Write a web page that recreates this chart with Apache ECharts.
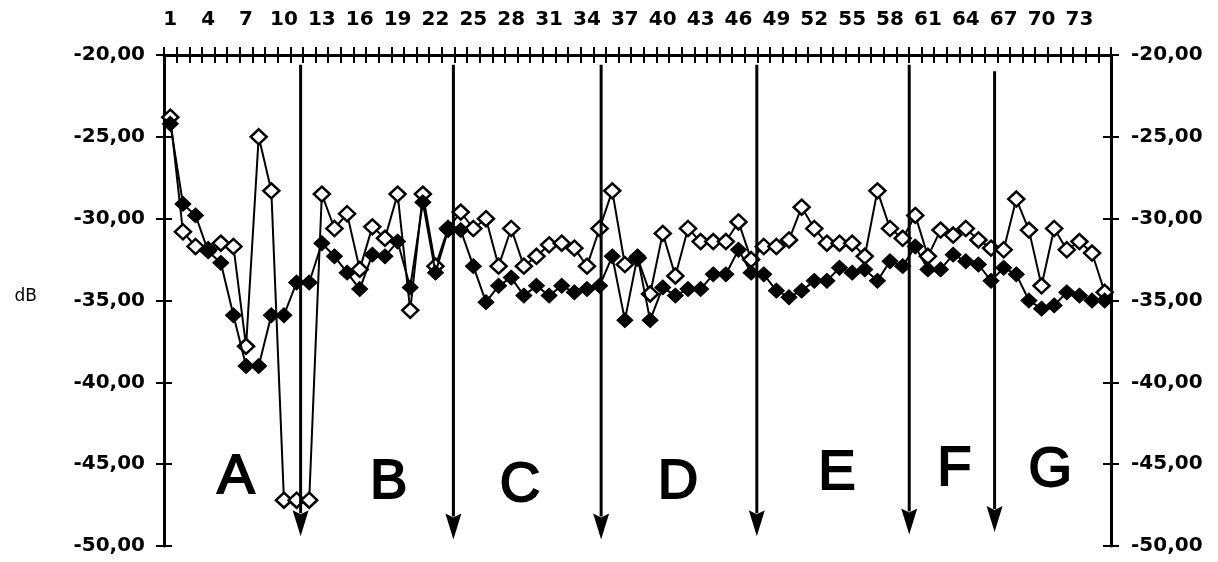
<!DOCTYPE html>
<html>
<head>
<meta charset="utf-8">
<script src="https://cdn.jsdelivr.net/npm/echarts@6/dist/echarts.min.js"></script>
<style>
  html, body { margin: 0; padding: 0; background: #fff; }
  #chart { width: 1218px; height: 562px; }
</style>
</head>
<body>
<div id="chart"></div>
<script>
// Measurement index 1..75 (top axis)
const categories = [
  '1','2','3','4','5','6','7','8','9','10','11','12','13','14','15','16','17','18','19','20',
  '21','22','23','24','25','26','27','28','29','30','31','32','33','34','35','36','37','38','39','40',
  '41','42','43','44','45','46','47','48','49','50','51','52','53','54','55','56','57','58','59','60',
  '61','62','63','64','65','66','67','68','69','70','71','72','73','74','75'
];

// Open-diamond series (dB)
const openSeries = [
  -23.8, -30.8, -31.7, -31.9, -31.5, -31.7, -37.8, -25.0, -28.3, -47.2,
  -47.2, -47.2, -28.5, -30.6, -29.7, -33.1, -30.5, -31.2, -28.5, -35.6,
  -28.5, -32.9, -30.6, -29.6, -30.6, -30.0, -32.9, -30.6, -32.9, -32.3,
  -31.6, -31.5, -31.8, -32.9, -30.6, -28.3, -32.8, -32.4, -34.6, -30.9,
  -33.5, -30.6, -31.4, -31.4, -31.4, -30.2, -32.5, -31.7, -31.7, -31.3,
  -29.3, -30.6, -31.5, -31.5, -31.5, -32.3, -28.3, -30.6, -31.2, -29.8,
  -32.3, -30.7, -31.0, -30.6, -31.3, -31.8, -31.9, -28.8, -30.7, -34.1,
  -30.6, -31.9, -31.4, -32.1, -34.5
];

// Filled-diamond series (dB)
const filledSeries = [
  -24.2, -29.1, -29.8, -32.0, -32.7, -35.9, -39.0, -39.0, -35.9, -35.9,
  -33.9, -33.9, -31.5, -32.3, -33.3, -34.3, -32.2, -32.3, -31.4, -34.2,
  -29.0, -33.3, -30.7, -30.7, -32.9, -35.1, -34.1, -33.6, -34.7, -34.1,
  -34.7, -34.1, -34.5, -34.3, -34.1, -32.3, -36.2, -32.3, -36.2, -34.2,
  -34.7, -34.3, -34.3, -33.4, -33.4, -31.9, -33.3, -33.4, -34.4, -34.8,
  -34.4, -33.8, -33.8, -33.0, -33.3, -33.1, -33.8, -32.6, -32.9, -31.7,
  -33.1, -33.1, -32.2, -32.6, -32.8, -33.8, -33.0, -33.4, -35.0, -35.5,
  -35.3, -34.5, -34.7, -35.0, -35.0
];

// Section dividers: position on the index scale, start level and tip level (dB)
const dividerPos = [11.32, 23.42, 35.12, 47.45, 59.52, 66.28];
const dividerTop = [-20.6, -20.6, -20.6, -20.6, -20.6, -21.0];
const dividerTip = [-49.4, -49.6, -49.6, -49.4, -49.3, -49.15];

// Section letters
const sectionNames = ['A', 'B', 'C', 'D', 'E', 'F', 'G'];
const sectionPos = [6.2, 18.3, 28.7, 41.2, 53.8, 63.1, 70.7];
const sectionLevel = [-45.8, -46.1, -46.3, -46.1, -45.6, -45.3, -45.4];

// Y tick labels
const yMin = -50, yMax = -20, yStep = 5;

const fmt = v => v.toFixed(2).replace('.', ',');
const labelFont = { color: '#000', fontFamily: 'DejaVu Sans', fontWeight: 'bold', fontSize: 20 };

const chart = echarts.init(document.getElementById('chart'), null, { renderer: 'canvas' });

const baseY = {
  type: 'value', min: yMin, max: yMax, interval: yStep,
  splitLine: { show: false }
};

chart.setOption({
  backgroundColor: '#fff',
  animation: false,
  grid: { left: 164, right: 107, top: 55, bottom: 16, containLabel: false },
  graphic: [{
    type: 'text', x: 37, y: 297,
    style: {
      text: 'dB', fill: '#000', fontSize: 17, fontFamily: 'DejaVu Sans',
      align: 'right', verticalAlign: 'middle'
    }
  }],
  xAxis: [
    {
      type: 'category', data: categories, position: 'top', boundaryGap: true,
      axisLine: { onZero: false, lineStyle: { color: '#000', width: 3 } },
      axisTick: { show: true, interval: 0, length: 8, inside: false, lineStyle: { color: '#000', width: 2 } },
      axisLabel: { interval: 2, margin: 25, fontSize: 20, color: '#000', fontFamily: 'DejaVu Sans', fontWeight: 'bold' },
      splitLine: { show: false }
    },
    {
      type: 'category', data: categories, position: 'top', boundaryGap: true,
      axisLine: { show: false, onZero: false },
      axisTick: { show: true, interval: 0, length: 8, inside: true, lineStyle: { color: '#000', width: 2 } },
      axisLabel: { show: false },
      splitLine: { show: false }
    },
    {
      type: 'value', min: 0.5, max: 75.5, show: false
    }
  ],
  yAxis: [
    Object.assign({}, baseY, {
      position: 'left',
      axisLine: { show: true, lineStyle: { color: '#000', width: 3 } },
      axisTick: { show: true, length: 8, lineStyle: { color: '#000', width: 2 } },
      axisLabel: Object.assign({ margin: 19, formatter: fmt }, labelFont)
    }),
    Object.assign({}, baseY, {
      position: 'left',
      axisLine: { show: false },
      axisTick: { show: true, inside: true, length: 8, lineStyle: { color: '#000', width: 2 } },
      axisLabel: { show: false }
    }),
    Object.assign({}, baseY, {
      position: 'right',
      axisLine: { show: true, lineStyle: { color: '#000', width: 3 } },
      axisTick: { show: true, length: 8, lineStyle: { color: '#000', width: 2 } },
      axisLabel: Object.assign({ margin: 20, formatter: fmt }, labelFont)
    }),
    Object.assign({}, baseY, {
      position: 'right',
      axisLine: { show: false },
      axisTick: { show: true, inside: true, length: 8, lineStyle: { color: '#000', width: 2 } },
      axisLabel: { show: false }
    })
  ],
  series: [
    {
      name: 'open', type: 'line', xAxisIndex: 0, yAxisIndex: 0,
      data: openSeries,
      symbol: 'diamond', symbolSize: [16, 15], showAllSymbol: true,
      lineStyle: { color: '#000', width: 2 },
      itemStyle: { color: '#fff', borderColor: '#000', borderWidth: 2.5 },
      z: 3
    },
    {
      name: 'filled', type: 'line', xAxisIndex: 0, yAxisIndex: 0,
      data: filledSeries,
      symbol: 'diamond', symbolSize: [16, 15], showAllSymbol: true,
      lineStyle: { color: '#000', width: 2 },
      itemStyle: { color: '#000', borderColor: '#000', borderWidth: 1 },
      z: 4
    },
    {
      name: 'dividers', type: 'custom', xAxisIndex: 2, yAxisIndex: 0,
      data: dividerPos.map((x, i) => [x, dividerTop[i], dividerTip[i]]),
      clip: false, z: 5,
      renderItem: function (params, api) {
        const top = api.coord([api.value(0), api.value(1)]);
        const tip = api.coord([api.value(0), api.value(2)]);
        const headH = 26, headW = 16;
        return {
          type: 'group',
          children: [
            { type: 'line', shape: { x1: top[0], y1: top[1], x2: tip[0], y2: tip[1] - headH + 3 },
              style: { stroke: '#000', lineWidth: 3 } },
            { type: 'polygon',
              shape: { points: [[tip[0] - headW / 2, tip[1] - headH], [tip[0], tip[1] - headH + 4], [tip[0] + headW / 2, tip[1] - headH], [tip[0], tip[1]]] },
              style: { fill: '#000' } }
          ]
        };
      }
    },
    {
      name: 'sections', type: 'custom', xAxisIndex: 2, yAxisIndex: 0,
      data: sectionPos.map((x, i) => [x, sectionLevel[i]]),
      clip: false, z: 6,
      renderItem: function (params, api) {
        const p = api.coord([api.value(0), api.value(1)]);
        return {
          type: 'text', x: p[0], y: p[1],
          style: {
            text: sectionNames[params.dataIndex], fill: '#000',
            font: '56px "Liberation Sans"', textAlign: 'center', textVerticalAlign: 'middle',
            stroke: '#000', lineWidth: 2
          }
        };
      }
    }
  ]
});
</script>
</body>
</html>
